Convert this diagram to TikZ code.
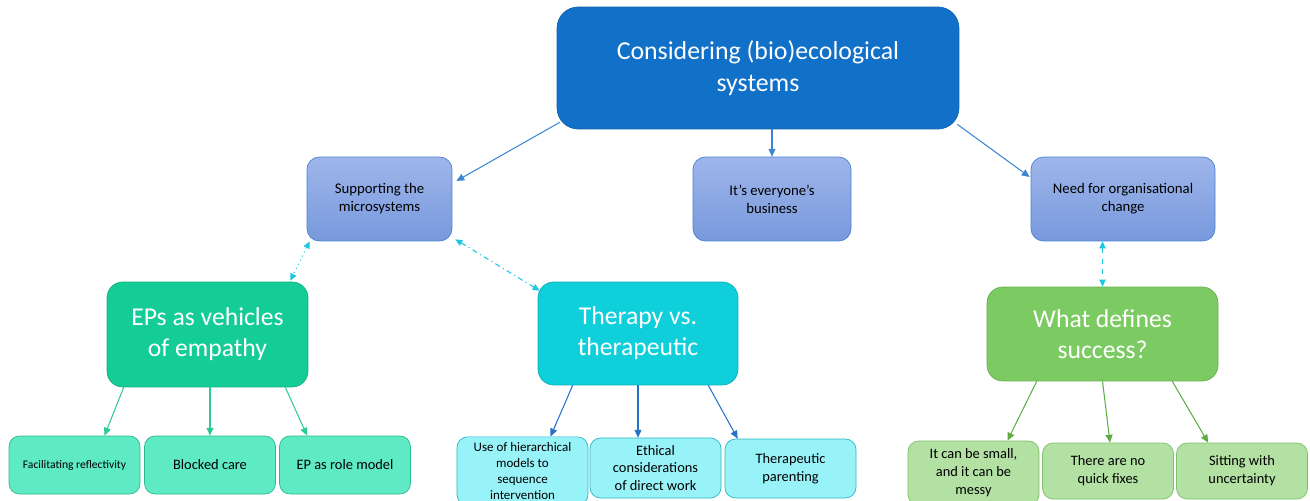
\documentclass[tikz,border=0pt]{standalone}
\usepackage{fontspec}
\setmainfont{Carlito}
\usepackage{tikz}
\usetikzlibrary{positioning,arrows.meta}

\definecolor{topblue}{HTML}{1170C8}
\definecolor{topedge}{HTML}{0F62B0}
\definecolor{midtop}{HTML}{9EB6EA}
\definecolor{midbot}{HTML}{7899DD}
\definecolor{midedge}{HTML}{4A82D4}
\definecolor{empgreen}{HTML}{14CD96}
\definecolor{therc}{HTML}{0FCFDA}
\definecolor{succgreen}{HTML}{7CCB62}
\definecolor{empleaf}{HTML}{5EEBC3}
\definecolor{empleafedge}{HTML}{2DB890}
\definecolor{therleaf}{HTML}{98F3F9}
\definecolor{therleafedge}{HTML}{2BB6C2}
\definecolor{succleaf}{HTML}{B3E0A3}
\definecolor{succleafedge}{HTML}{7FBF67}
\definecolor{linkblue}{HTML}{3C86D2}
\definecolor{linkcyan}{HTML}{1CC8E0}
\definecolor{linkemp}{HTML}{2EC99A}
\definecolor{linkther}{HTML}{2373C9}
\definecolor{linksucc}{HTML}{5FAE45}

\begin{document}
\begin{tikzpicture}
    [
      x=0.02cm, y=-0.02cm,
      TopBox/.style={rectangle, rounded corners=12pt, draw=topedge, fill=topblue, text=white, align=center, font=\fontsize{14.7}{18.1}\selectfont, minimum width=8.04cm, minimum height=2.44cm},
      MidBox/.style={rectangle, rounded corners=7pt, draw=midedge, top color=midtop, bottom color=midbot, align=center, font=\fontsize{8.4}{10.2}\selectfont, minimum height=1.68cm},
      Theme/.style={rectangle, rounded corners=9pt, draw=#1!85!black, fill=#1, text=white, align=center, font=\fontsize{14.6}{17.6}\selectfont},
      Leaf/.style={rectangle, rounded corners=6pt, draw=#1edge, fill=#1, align=center, font=\fontsize{8.2}{10.2}\selectfont, minimum width=2.62cm, minimum height=1.16cm},
      Link/.style={-{Triangle[length=4.5pt,width=4pt]}, draw=#1, line width=0.6pt},
      Both/.style={{Triangle[length=4pt,width=3.6pt]}-{Triangle[length=4pt,width=3.6pt]}, draw=linkcyan, line width=0.6pt},
    ]
    \useasboundingbox (0,0) rectangle (1310,500);

    % Nodes
    \node[TopBox] (top) at (758, 68) {Considering (bio)ecological\\systems};

    \node[MidBox, minimum width=2.9cm] (support) at (379.5, 199) {Supporting the\\microsystems};
    \node[MidBox, minimum width=3.16cm] (business) at (772, 199) {It’s everyone’s\\business};
    \node[MidBox, minimum width=3.68cm] (change) at (1123, 199) {Need for organisational\\change};

    \node[Theme=empgreen, minimum width=4.02cm, minimum height=2.1cm] (empathy) at (207.5, 334.5) {EPs as vehicles\\of empathy};
    \node[Theme=therc, minimum width=4cm, minimum height=2.06cm] (therapy) at (638, 333.5) {Therapy vs.\\therapeutic};
    \node[Theme=succgreen, minimum width=4.62cm, minimum height=1.88cm] (success) at (1102.5, 334) {What defines\\success?};

    \node[Leaf=empleaf, font=\fontsize{6.6}{8}\selectfont] (reflect) at (74.5, 465) {Facilitating reflectivity};
    \node[Leaf=empleaf] (blocked) at (210, 465) {Blocked care};
    \node[Leaf=empleaf] (rolemodel) at (345, 465) {EP as role model};

    \node[Leaf=therleaf, font=\fontsize{7.4}{9}\selectfont, minimum height=1.36cm] (hier) at (522.5, 471) {Use of hierarchical\\models to\\sequence\\intervention};
    \node[Leaf=therleaf, minimum height=1.2cm] (ethics) at (655.5, 468) {Ethical\\considerations\\of direct work};
    \node[Leaf=therleaf, minimum height=1.18cm] (parenting) at (790.5, 468.5) {Therapeutic\\parenting};

    \node[Leaf=succleaf, minimum height=1.28cm] (messy) at (973.5, 473) {It can be small,\\and it can be\\messy};
    \node[Leaf=succleaf, minimum height=1.12cm] (fixes) at (1108, 471) {There are no\\quick fixes};
    \node[Leaf=succleaf, minimum height=1.12cm] (uncert) at (1242, 471) {Sitting with\\uncertainty};

    % Lines
      \path [Link=linkblue] ([shift={(3,-7)}]top.south west) -- ([shift={(4,-18)}]support.east);
      \path [Link=linkblue] (business.north |- top.south) -- (business.north);
      \path [Link=linkblue] ([shift={(-2,-5)}]top.south east) -- ([shift={(-1,-22)}]change.west);

      \path [Both, dotted] ([shift={(3,0)}]support.south west) -- ([shift={(-18,-1)}]empathy.north east);
      \path [Both, dash dot] ([shift={(3,-2)}]support.south east) -- ([shift={(2,9)}]therapy.north west);
      \path [Both, dashed] (success.north |- change.south) -- (success.north);

      \path [Link=linkemp] ([shift={(17,0)}]empathy.south west) -- ([shift={(30,0)}]reflect.north);
      \path [Link=linkemp] (blocked.north |- empathy.south) -- (blocked.north);
      \path [Link=linkemp] ([shift={(-23,0)}]empathy.south east) -- ([shift={(28,0)}]rolemodel.north west);

      \path [Link=linkther] ([shift={(35,0)}]therapy.south west) -- ([shift={(28,0)}]hier.north);
      \path [Link=linkther] (therapy.south) -- (therapy.south |- ethics.north);
      \path [Link=linkther] ([shift={(-30,0)}]therapy.south east) -- ([shift={(13,0)}]parenting.north west);

      \path [Link=linksucc] ([shift={(50,0)}]success.south west) -- ([shift={(34,0)}]messy.north);
      \path [Link=linksucc] (success.south) -- ([shift={(2,0)}]fixes.north);
      \path [Link=linksucc] ([shift={(-46,0)}]success.south east) -- ([shift={(32,0)}]uncert.north west);

  \end{tikzpicture}
\end{document}
